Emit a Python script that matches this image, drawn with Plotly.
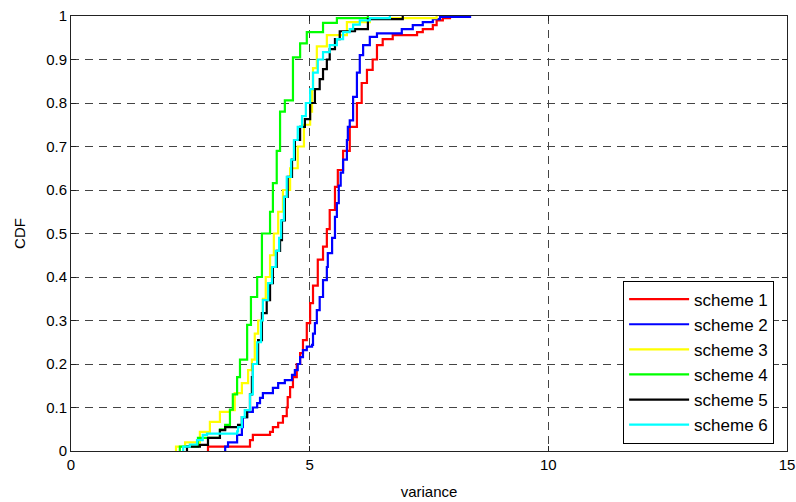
import plotly.graph_objects as go

scheme1_x = [2.87, 3.75, 3.81, 4.17, 4.23, 4.34, 4.44, 4.52, 4.54, 4.59, 4.65, 4.73, 4.80, 4.86, 4.94,
             5.01, 5.07, 5.17, 5.28, 5.36, 5.42, 5.53, 5.59, 5.70, 5.84, 5.99, 6.09, 6.20, 6.32, 6.41,
             6.53, 6.74, 7.25, 7.37, 7.58, 7.66, 7.79, 7.94]
scheme1_y = [0.01, 0.025, 0.037, 0.044, 0.055, 0.065, 0.08, 0.10, 0.124, 0.147, 0.17, 0.20, 0.225, 0.255, 0.294,
             0.34, 0.38, 0.44, 0.47, 0.51, 0.554, 0.607, 0.646, 0.69, 0.745, 0.80, 0.846, 0.876, 0.90, 0.933,
             0.947, 0.956, 0.963, 0.97, 0.979, 0.99, 0.995, 1.0]

scheme2_x = [3.23, 3.29, 3.48, 3.58, 3.60, 3.69, 3.81, 3.90, 3.96, 4.02, 4.23, 4.34, 4.48, 4.63, 4.69,
             4.75, 4.80, 4.86, 4.94, 5.05, 5.07, 5.11, 5.15, 5.21, 5.28, 5.36, 5.38, 5.47, 5.53, 5.57,
             5.61, 5.65, 5.70, 5.78, 5.80, 5.84, 5.91, 5.99, 6.05, 6.12, 6.26, 6.41, 6.93, 7.16, 7.37,
             7.58, 7.73, 8.36]
scheme2_y = [0.01, 0.02, 0.037, 0.055, 0.078, 0.09, 0.10, 0.11, 0.122, 0.133, 0.145, 0.156, 0.163, 0.175, 0.186,
             0.20, 0.216, 0.232, 0.24, 0.244, 0.27, 0.294, 0.324, 0.354, 0.393, 0.423, 0.455, 0.49, 0.538, 0.57,
             0.61, 0.64, 0.67, 0.715, 0.745, 0.76, 0.814, 0.87, 0.91, 0.933, 0.952, 0.96, 0.97, 0.979, 0.986,
             0.993, 0.998, 1.0]

scheme3_x = [2.20, 2.39, 2.70, 2.91, 3.12, 3.33, 3.43, 3.58, 3.71, 3.79, 3.85, 3.92, 4.02, 4.08, 4.17,
             4.25, 4.34, 4.44, 4.59, 4.75, 4.88, 5.01, 5.05, 5.07, 5.15, 5.36, 5.78, 6.26, 7.66]
scheme3_y = [0.01, 0.02, 0.044, 0.067, 0.09, 0.094, 0.133, 0.156, 0.186, 0.21, 0.27, 0.30, 0.35, 0.40, 0.45,
             0.50, 0.55, 0.60, 0.65, 0.70, 0.75, 0.78, 0.83, 0.88, 0.93, 0.956, 0.986, 0.995, 1.0]

scheme4_x = [2.28, 2.66, 3.12, 3.23, 3.33, 3.39, 3.48, 3.54, 3.69, 3.77, 3.90, 4.00, 4.17, 4.23, 4.31,
             4.38, 4.48, 4.65, 4.80, 4.94, 5.28, 5.57, 6.22]
scheme4_y = [0.01, 0.03, 0.05, 0.06, 0.095, 0.13, 0.17, 0.21, 0.29, 0.354, 0.40, 0.50, 0.55, 0.616, 0.69,
             0.78, 0.806, 0.905, 0.937, 0.963, 0.984, 0.995, 1.0]

scheme5_x = [2.43, 2.70, 2.87, 3.12, 3.23, 3.50, 3.58, 3.69, 3.75, 3.79, 3.81, 3.92, 4.00, 4.10, 4.17,
             4.23, 4.31, 4.38, 4.42, 4.48, 4.54, 4.63, 4.69, 4.80, 4.90, 5.01, 5.11, 5.21, 5.28, 5.36,
             5.42, 5.53, 5.63, 5.95, 6.22, 6.95]
scheme5_y = [0.01, 0.014, 0.03, 0.048, 0.055, 0.06, 0.078, 0.094, 0.13, 0.17, 0.20, 0.255, 0.317, 0.347, 0.386,
             0.423, 0.46, 0.485, 0.53, 0.584, 0.63, 0.67, 0.715, 0.745, 0.763, 0.80, 0.832, 0.855, 0.878, 0.90,
             0.924, 0.947, 0.965, 0.97, 0.993, 1.0]

scheme6_x = [2.35, 2.49, 2.64, 2.76, 2.85, 3.48, 3.50, 3.58, 3.64, 3.75, 3.81, 3.90, 3.98, 4.02, 4.13,
             4.21, 4.29, 4.36, 4.40, 4.46, 4.52, 4.61, 4.67, 4.75, 4.84, 4.92, 5.01, 5.07, 5.17, 5.28,
             5.42, 5.57, 5.70, 5.84, 5.91, 6.05, 6.26, 6.68]
scheme6_y = [0.01, 0.015, 0.025, 0.037, 0.04, 0.045, 0.055, 0.078, 0.094, 0.13, 0.20, 0.25, 0.30, 0.347, 0.386,
             0.423, 0.46, 0.49, 0.53, 0.584, 0.63, 0.67, 0.715, 0.745, 0.77, 0.80, 0.832, 0.87, 0.90, 0.917,
             0.933, 0.947, 0.963, 0.97, 0.98, 0.99, 0.995, 1.0]

names = ["scheme 1", "scheme 2", "scheme 3", "scheme 4", "scheme 5", "scheme 6"]
colors = ["#ff0000", "#0000ff", "#ffff00", "#00ff00", "#000000", "#00ffff"]
series = [(scheme1_x, scheme1_y), (scheme2_x, scheme2_y), (scheme3_x, scheme3_y),
          (scheme4_x, scheme4_y), (scheme5_x, scheme5_y), (scheme6_x, scheme6_y)]

x_ticks = [0, 5, 10, 15]
y_ticks = [0, 0.1, 0.2, 0.3, 0.4, 0.5, 0.6, 0.7, 0.8, 0.9, 1]
y_tick_text = ["0", "0.1", "0.2", "0.3", "0.4", "0.5", "0.6", "0.7", "0.8", "0.9", "1"]

fig = go.Figure()
for name, color, (xs, ys) in zip(names, colors, series):
    fig.add_trace(go.Scatter(
        x=[xs[0]] + xs, y=[0] + ys, mode="lines", name=name,
        line=dict(color=color, width=2.2, shape="hv"), legendgroup=name,
    ))

font = dict(family="Liberation Sans, Arial, sans-serif", size=15, color="#000000")
axis_common = dict(
    showgrid=True, gridcolor="#444444", gridwidth=1, griddash="8px,6px",
    zeroline=False, showline=True, linecolor="#222222", linewidth=1, mirror="ticks",
    ticks="inside", ticklen=5, tickcolor="#222222", tickfont=font, automargin=False,
)
fig.update_xaxes(range=[0, 15], tickvals=x_ticks, title=dict(text="variance", font=font, standoff=14),
                 **axis_common)
fig.update_yaxes(range=[0, 1], tickvals=y_ticks, ticktext=y_tick_text,
                 title=dict(text="CDF", font=font, standoff=16), **axis_common)

fig.update_layout(
    width=796, height=502,
    margin=dict(l=71, r=9, t=16, b=51),
    paper_bgcolor="white", plot_bgcolor="white",
    font=font,
    showlegend=True,
    legend=dict(
        x=0.982, y=0.017, xanchor="right", yanchor="bottom",
        bgcolor="white", bordercolor="#000000", borderwidth=1,
        font=dict(family="Liberation Sans, Arial, sans-serif", size=17, color="#000000"),
        tracegroupgap=0, itemwidth=60,
    ),
)

fig.write_html("out.html")
